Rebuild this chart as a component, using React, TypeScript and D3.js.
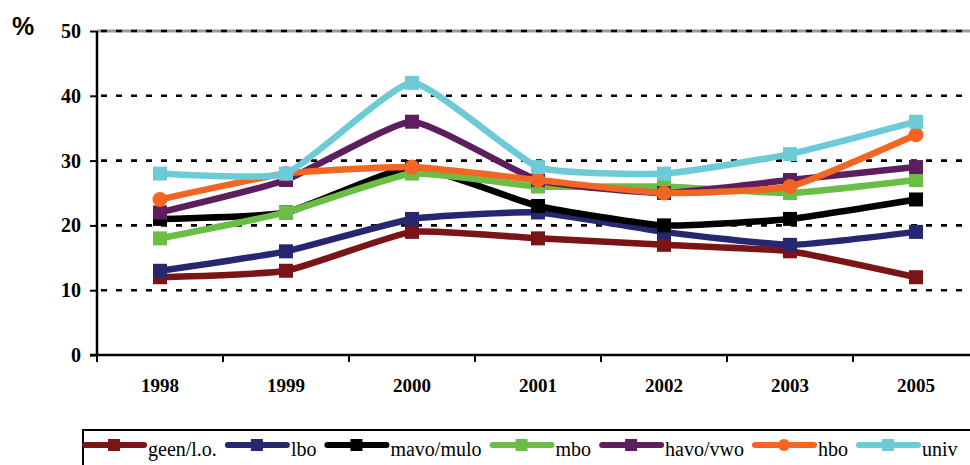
import { useRef, useEffect } from 'react';
import * as d3 from 'd3';

const years = ['1998', '1999', '2000', '2001', '2002', '2003', '2005'];
const yTicks = [0, 10, 20, 30, 40, 50];

const geen = [12, 13, 19, 18, 17, 16, 12];
const lbo = [13, 16, 21, 22, 19, 17, 19];
const mavo = [21, 22, 29, 23, 20, 21, 24];
const mbo = [18, 22, 28, 26, 26, 25, 27];
const havo = [22, 27, 36, 27, 25, 27, 29];
const hbo = [24, 28, 29, 27, 25, 26, 34];
const univ = [28, 28, 42, 29, 28, 31, 36];

const series = [
  { name: 'geen/l.o.', values: geen, color: '#7a1416', marker: 'square' },
  { name: 'lbo', values: lbo, color: '#262770', marker: 'square' },
  { name: 'mavo/mulo', values: mavo, color: '#000000', marker: 'square' },
  { name: 'mbo', values: mbo, color: '#6abd45', marker: 'square' },
  { name: 'havo/vwo', values: havo, color: '#5c1e5e', marker: 'square' },
  { name: 'hbo', values: hbo, color: '#f26522', marker: 'circle' },
  { name: 'univ', values: univ, color: '#6dcbd8', marker: 'square' },
];

const SERIF = 'Liberation Serif, Times New Roman, serif';

export default function App() {
  const svgRef = useRef<SVGSVGElement>(null);

  useEffect(() => {
    if (!svgRef.current) return;
    const svg = d3.select(svgRef.current);
    svg.selectAll('*').remove();

    const left = 97;
    const top = 31;
    const bottom = 355;
    const bandW = 126;
    const right = left + bandW * years.length;

    const x = d3.scaleBand<string>().domain(years).range([left, right]);
    const y = d3.scaleLinear().domain([0, 50]).range([bottom, top]);

    // grid
    const grid = svg.append('g');
    grid.append('line')
      .attr('x1', left).attr('x2', right).attr('y1', y(50)).attr('y2', y(50))
      .attr('stroke', '#999').attr('stroke-width', 3);
    grid.selectAll('line.g')
      .data(yTicks.filter((d) => d > 0))
      .join('line')
      .attr('class', 'g')
      .attr('x1', left + 4).attr('x2', right)
      .attr('y1', (d) => y(d)).attr('y2', (d) => y(d))
      .attr('stroke', '#000').attr('stroke-width', 2.6)
      .attr('stroke-dasharray', '6 9');

    // y axis
    svg.append('g')
      .attr('transform', `translate(${left},0)`)
      .call(d3.axisLeft(y).tickValues(yTicks).tickSize(7).tickPadding(9).tickFormat((d) => `${d}`))
      .attr('font-family', SERIF)
      .call((g) => g.select('.domain').attr('stroke', '#000').attr('stroke-width', 2.5).attr('d', `M0,${top}V${bottom}`))
      .call((g) => g.selectAll('.tick line').attr('stroke', '#000').attr('stroke-width', 2))
      .call((g) => g.selectAll('text')
        .attr('fill', '#000')
        .attr('font-family', SERIF)
        .attr('font-weight', 'bold')
        .attr('font-size', 20));

    // x axis
    const xTickPos = d3.range(years.length + 1).map((i) => left + i * bandW);
    const xa = svg.append('g');
    xa.append('line')
      .attr('x1', left - 7).attr('x2', right).attr('y1', bottom).attr('y2', bottom)
      .attr('stroke', '#000').attr('stroke-width', 2.5);
    xa.selectAll('line.t')
      .data(xTickPos)
      .join('line')
      .attr('class', 't')
      .attr('x1', (d) => d).attr('x2', (d) => d)
      .attr('y1', bottom).attr('y2', bottom + 7)
      .attr('stroke', '#000').attr('stroke-width', 2);
    xa.selectAll('text')
      .data(years)
      .join('text')
      .attr('x', (d) => x(d)! + bandW / 2)
      .attr('y', 392)
      .attr('text-anchor', 'middle')
      .attr('font-family', SERIF)
      .attr('font-weight', 'bold')
      .attr('font-size', 19)
      .text((d) => d);

    svg.append('text')
      .attr('x', 12).attr('y', 35)
      .attr('font-family', 'Liberation Sans, Arial, sans-serif')
      .attr('font-weight', 'bold')
      .attr('font-size', 25)
      .text('%');

    // series
    const line = d3.line<number>()
      .x((_, i) => x(years[i])! + bandW / 2)
      .y((d) => y(d))
      .curve(d3.curveCardinal.tension(0.55));

    for (const s of series) {
      const g = svg.append('g');
      g.append('path')
        .datum(s.values)
        .attr('d', line)
        .attr('fill', 'none')
        .attr('stroke', s.color)
        .attr('stroke-width', 6.5)
        .attr('stroke-linejoin', 'round');
      if (s.marker === 'circle') {
        g.selectAll('circle')
          .data(s.values)
          .join('circle')
          .attr('cx', (_, i) => x(years[i])! + bandW / 2)
          .attr('cy', (d) => y(d))
          .attr('r', 7.5)
          .attr('fill', s.color);
      } else {
        g.selectAll('rect')
          .data(s.values)
          .join('rect')
          .attr('x', (_, i) => x(years[i])! + bandW / 2 - 7)
          .attr('y', (d) => y(d) - 7)
          .attr('width', 14)
          .attr('height', 14)
          .attr('fill', s.color);
      }
    }

    // legend
    const leg = svg.append('g');
    leg.append('rect')
      .attr('x', 83).attr('y', 430).attr('width', 900).attr('height', 40)
      .attr('fill', 'none').attr('stroke', '#000').attr('stroke-width', 2);
    let lx = 82;
    const ly = 445;
    for (const s of series) {
      leg.append('line')
        .attr('x1', lx + 3).attr('x2', lx + 62).attr('y1', ly).attr('y2', ly)
        .attr('stroke', s.color).attr('stroke-width', 6).attr('stroke-linecap', 'round');
      if (s.marker === 'circle') {
        leg.append('circle').attr('cx', lx + 32).attr('cy', ly).attr('r', 6).attr('fill', s.color);
      } else {
        leg.append('rect').attr('x', lx + 26).attr('y', ly - 6).attr('width', 12).attr('height', 12).attr('fill', s.color);
      }
      const t = leg.append('text')
        .attr('x', lx + 66).attr('y', ly + 11)
        .attr('font-family', SERIF)
        .attr('font-size', 20)
        .text(s.name);
      const w = (t.node() as SVGTextElement).getComputedTextLength();
      lx = lx + 66 + w + 8;
    }
  }, []);

  return (
    <svg
      ref={svgRef}
      width={970}
      height={465}
      style={{ position: 'absolute', left: 0, top: 0, background: '#fff' }}
    />
  );
}
